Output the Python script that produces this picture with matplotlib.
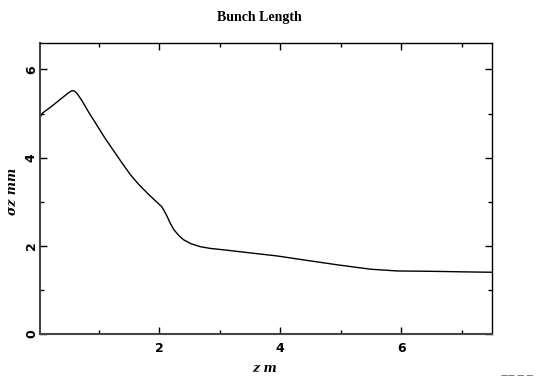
import matplotlib
matplotlib.use("Agg")
from matplotlib import pyplot as plt
from matplotlib.ticker import MultipleLocator

# position along the line (m) and bunch length (mm)
z = [0.03, 0.05, 0.08, 0.2, 0.3, 0.4, 0.5, 0.56, 0.60, 0.64, 0.72, 0.83, 0.95,
     1.10, 1.25, 1.38, 1.52, 1.65, 1.80, 1.93, 2.04, 2.08, 2.13, 2.18, 2.24,
     2.32, 2.40, 2.52, 2.68, 2.85, 3.06, 3.5, 3.95, 4.39, 4.94, 5.49, 5.93,
     6.59, 7.0, 7.5]
sigma_z = [4.90, 4.97, 5.02, 5.14, 5.25, 5.36, 5.47, 5.52, 5.51, 5.46, 5.30,
           5.04, 4.78, 4.45, 4.15, 3.89, 3.62, 3.41, 3.20, 3.03, 2.89, 2.80,
           2.67, 2.52, 2.37, 2.24, 2.14, 2.05, 1.98, 1.94, 1.91, 1.84, 1.77,
           1.68, 1.57, 1.47, 1.43, 1.42, 1.41, 1.40]

fig = plt.figure(figsize=(5.36, 3.78), dpi=100)
ax = fig.add_axes([40 / 536, 44 / 378, 452 / 536, 291 / 378])

ax.plot(z, sigma_z, color='black', linewidth=1.0)

ax.set_xlim(0.03, 7.5)
ax.set_ylim(0, 6.6)
ax.xaxis.set_major_locator(MultipleLocator(2))
ax.xaxis.set_minor_locator(MultipleLocator(1))
ax.yaxis.set_major_locator(MultipleLocator(2))
ax.yaxis.set_minor_locator(MultipleLocator(1))
ax.tick_params(which='both', direction='in', top=True, right=True,
               width=1.0, colors='black')
ax.tick_params(which='major', length=5)
ax.tick_params(which='minor', length=3)
ax.tick_params(axis='x', pad=6)
ax.tick_params(axis='y', pad=1.5)
for lab in ax.get_xticklabels() + ax.get_yticklabels():
    lab.set_fontweight('bold')
    lab.set_fontsize(9)
for lab in ax.get_yticklabels():
    lab.set_rotation(90)
    lab.set_va('center')

for side in ['left', 'bottom']:
    ax.spines[side].set_color('#444444')
    ax.spines[side].set_linewidth(1.5)
for side in ['top', 'right']:
    ax.spines[side].set_linewidth(1.0)

fig.text(259 / 536, 1 - 18 / 378, 'Bunch Length', ha='center', va='center',
         fontsize=10, fontweight='bold', family='Liberation Serif')
fig.text(265 / 536, 1 - 368 / 378, 'z m', ha='center', va='center',
         fontsize=9, fontweight='bold', style='italic', family='DejaVu Serif')
fig.text(13 / 536, 1 - 191 / 378, 'σz mm', ha='center', va='center',
         rotation=90, fontsize=9, fontweight='bold', style='italic',
         family='DejaVu Serif')
fig.text(517 / 536, 1 - 375 / 378, '\u2014\u2014 \u2014 \u2014', ha='center',
         va='center', fontsize=5, color='black')

fig.savefig('out.png', dpi=100)
